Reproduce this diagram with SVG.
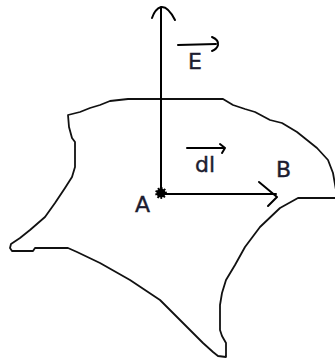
<svg xmlns="http://www.w3.org/2000/svg" width="335" height="360" viewBox="0 0 335 360">
<style>
.ln{fill:none;stroke:#000;stroke-width:2;stroke-linecap:round;stroke-linejoin:round}
.sf{fill:none;stroke:#111;stroke-width:1.8;stroke-linejoin:round;stroke-linecap:round}
.lb{font-family:"DejaVu Sans",sans-serif;font-size:22px;fill:#1c1c30;stroke:#1c1c30;stroke-width:0.4}
</style>
<rect width="335" height="360" fill="#fff"/>
<g id="surface">
<polyline class="sf" points="336,190 333,173 328,160 317,148 307,140 297,132 282,123 270,120 255,112 245,109 233,105 223,99 128,99 110,101 100,105 90,108 80,112 68,115 69,127 72,138 75,142 75,167 72,177 65,188 55,203 45,217 30,230 20,238 11,244 10,248 12,251 33,251 35,248 68,248 77,252 100,263 130,280 160,300 170,310 187,327 203,343 213,352 218,356 226,357 226,343 222,336 220,330 220,305 222,293 226,280 235,265 245,247 260,227 280,208 298,198 336,198"/>
</g>
<g id="connectors">
<g id="E-axis">
<path class="ln" d="M161,193 L161,8"/>
<path class="ln" d="M152,18 Q155,9 161,7 Q168,6 175,20"/>
</g>
<g id="dl-arrow">
<path class="ln" d="M161,194 L276,194"/>
<path class="ln" d="M259,182 L277,197 L268,206"/>
</g>
</g>
<g id="A">
<circle cx="161" cy="193" r="4.6" fill="#000" stroke="#000" stroke-width="2.6" stroke-dasharray="1.6,1.4"/>
<text class="lb" x="135" y="212">A</text>
</g>
<g id="B">
<text class="lb" x="276" y="177">B</text>
</g>
<g id="E-label">
<path class="ln" d="M178,45 L216,44"/>
<path class="ln" d="M212,37 Q219,40 218,45 Q217,49 212,51"/>
<text class="lb" x="188" y="69">E</text>
</g>
<g id="dl-label">
<path class="ln" d="M187,148 L224,148"/>
<path class="ln" d="M220,144 L225,148 L222,153"/>
<text class="lb" x="195" y="172">dl</text>
</g>
</svg>
